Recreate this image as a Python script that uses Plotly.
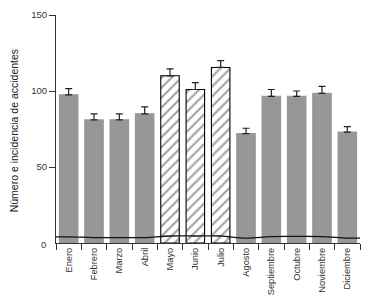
import plotly.graph_objects as go

months = ["Enero", "Febrero", "Marzo", "Abril", "Mayo", "Junio", "Julio",
          "Agosto", "Septiembre", "Octubre", "Noviembre", "Diciembre"]
accidents = [97.5, 81, 81, 85, 110, 101, 115.5, 72, 96.5, 96.5, 98.5, 73]
err_up = [4, 4, 4, 4.5, 4.5, 4.5, 4.5, 3.5, 4.5, 3.5, 4.5, 3.5]
hatched = [False, False, False, False, True, True, True, False, False, False, False, False]
incidence = [4, 3.6, 3.5, 3.6, 4.6, 4.6, 4.6, 3.2, 4.2, 4.3, 4.2, 3.2]
y_ticks = [50, 100, 150]

FONT = "Liberation Sans, Arial, sans-serif"
GRAY = "#979797"

fig = go.Figure()

fig.add_trace(go.Bar(
    x=months, y=accidents,
    marker=dict(
        color=["white" if h else GRAY for h in hatched],
        line=dict(color=["black" if h else GRAY for h in hatched], width=1.1),
        pattern=dict(shape=["/" if h else "" for h in hatched],
                     fgcolor="black", bgcolor="white", size=7, solidity=0.3),
    ),
    error_y=dict(type="data", array=err_up, arrayminus=[0] * len(err_up),
                 symmetric=False, color="#222", thickness=1.2, width=3.5),
    showlegend=False,
))

idx = list(range(len(months)))
line_x = [idx[0] - 0.5] + idx + [idx[-1] + 0.5]
line_y = [incidence[0]] + incidence + [incidence[-1]]
fig.add_trace(go.Scatter(
    x=line_x, y=line_y, xaxis="x2", mode="lines",
    line=dict(color="#111", width=1.3, shape="spline"),
    showlegend=False,
))

# page body has an 8px default margin: size the figure so the plot lands right
fig.update_layout(
    width=384, height=290,
    margin=dict(l=48, r=32, t=7, b=55),
    paper_bgcolor="white", plot_bgcolor="white",
    bargap=0.27,
    font=dict(family=FONT, size=9, color="#333"),
    xaxis=dict(
        type="category", showline=True, linecolor="#333", linewidth=1,
        ticks="outside", tickson="boundaries", ticklen=6, tickcolor="#333",
        tickangle=-90, tickfont=dict(size=9.3, color="#333"),
        showgrid=False, zeroline=False, range=[-0.5, 11.5], automargin=False,
    ),
    xaxis2=dict(overlaying="x", range=[-0.5, 11.5], visible=False),
    yaxis=dict(
        range=[0, 150], showline=True, linecolor="#333", linewidth=1,
        ticks="outside", ticklen=6, tickcolor="#333",
        tickvals=y_ticks, tickfont=dict(size=9.5, color="#333"),
        showgrid=False, zeroline=False, automargin=False,
    ),
    annotations=[
        dict(text="Número e incidencia de accidentes", textangle=-90,
             xref="paper", yref="paper", x=-0.138, y=0.49,
             xanchor="center", yanchor="middle",
             showarrow=False, font=dict(size=10.5, color="#222")),
        dict(text="0", xref="paper", yref="y", x=0, y=0, xanchor="right",
             xshift=-8, yshift=-1, showarrow=False,
             font=dict(size=9.5, color="#333")),
    ],
)

fig.write_html("out.html")
